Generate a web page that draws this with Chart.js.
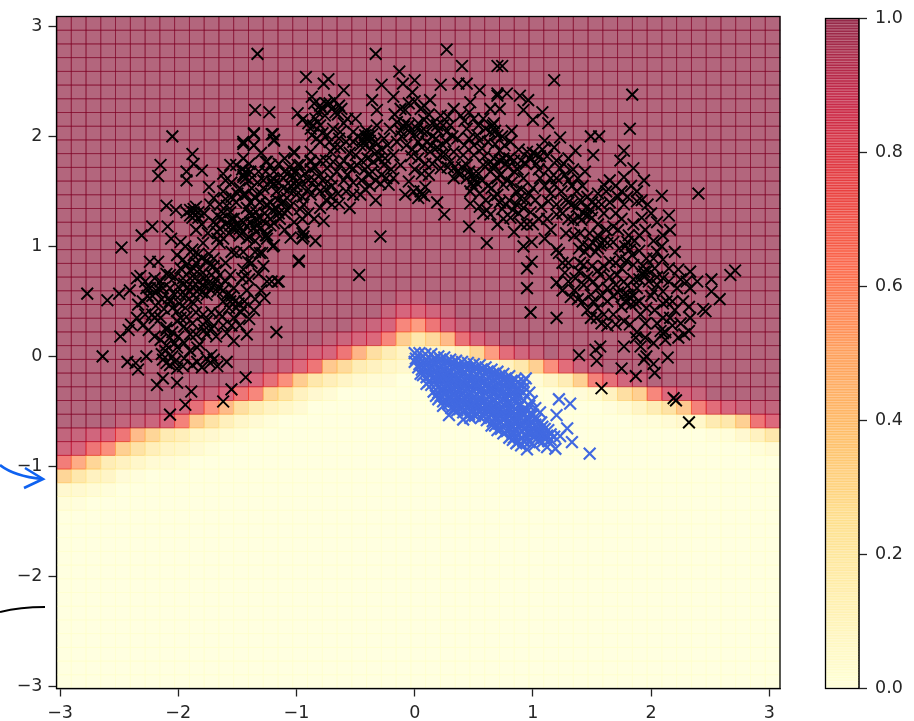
<!DOCTYPE html>
<html>
<head>
<meta charset="utf-8">
<style>
  html, body { margin: 0; padding: 0; background: #fff; }
  #wrap { position: relative; width: 914px; height: 721px; overflow: hidden; }
  canvas { position: absolute; top: 0; filter: blur(0.35px); }
  #ink { position: absolute; left: 0; top: 0; }
</style>
<script src="https://cdn.jsdelivr.net/npm/chart.js@4/dist/chart.umd.min.js"></script>
</head>
<body>
<div id="wrap">
  <canvas id="mainChart" width="914" height="721" style="left:0"></canvas>
  <canvas id="barChart" width="98" height="721" style="left:816px"></canvas>
  <svg id="ink" width="914" height="721">
    <path d="M0 465 Q14 476 42 479" fill="none" stroke="#0f62f0" stroke-width="2.6"/>
    <path d="M25 468 L43 479 L24 488" fill="none" stroke="#0f62f0" stroke-width="2.6"/>
    <path d="M0 612 Q20 607 45 607" fill="none" stroke="#000" stroke-width="2"/>
  </svg>
</div>
<script>
const xTicks = [-3, -2, -1, 0, 1, 2, 3];
const yTicks = [-3, -2, -1, 0, 1, 2, 3];
const barTicks = [0, 0.2, 0.4, 0.6, 0.8, 1];
const xRange = [-3.03, 3.09];
const yRange = [-3.02, 3.09];
const GRID_SIZE = 49;

// for each grid column: the highest row that is not fully 1.0, and the values going down from it
const cellTopRow = [18,18,18,18,19,19,19,20,20,21,21,21,22,22,23,23,24,24,25,25,26,26,27,28,28,27,27,26,25,25,24,24,24,23,24,23,23,22,22,22,21,21,21,21,20,20,20,20,20];
const cellFalloff = [
  [.95,.9,.72,.35,.08,.03],[.93,.88,.55,.25,.07,.02],[.9,.75,.35,.15,.05],[.87,.65,.2,.12,.03],
  [.95,.75,.38,.15,.04],[.94,.5,.28,.1,.02],[.92,.35,.18,.06],[.95,.88,.22,.12,.04],
  [.9,.7,.18,.1,.03],[.95,.8,.4,.1,.06],[.94,.62,.28,.08,.03],[.88,.5,.17,.05],
  [.95,.75,.3,.1,.03],[.88,.68,.2,.06],[.94,.8,.35,.14,.03],[.92,.65,.27,.1],
  [.95,.85,.4,.15,.06],[.9,.75,.25,.08],[.95,.88,.42,.18,.05],[.92,.75,.32,.12],
  [.95,.88,.52,.2,.07],[.92,.85,.3,.15,.05],[.93,.88,.68,.2,.1,.04],[.96,.88,.68,.4,.13,.08],
  [.95,.86,.6,.25,.1,.05],[.9,.75,.33,.1,.04],[.94,.88,.5,.1,.04],[.93,.78,.18,.05],
  [.88,.35,.08],[.93,.6,.1],[.82,.15,.03],[.9,.25,.04],
  [.93,.38,.05],[.65,.12],[.96,.82,.2,.02],[.92,.38,.04],
  [.95,.7,.07],[.8,.15,.02],[.9,.3,.06],[.93,.38,.12,.02],
  [.68,.2,.03],[.85,.28,.05],[.9,.42,.08],[.93,.7,.1],
  [.82,.22,.02],[.88,.25,.03],[.92,.38,.08],[.94,.75,.15,.03],[.95,.85,.25,.05]
];

const blackPoints = [
  // left arm
  [-2.05,2.0],[-1.88,1.84],[-2.15,1.74],[-2.17,1.64],[-1.8,1.69],[-1.87,1.75],[-1.93,1.68],[-1.93,1.6],[-1.62,1.66],
  [-1.45,1.93],[-1.36,2.02],[-1.36,1.92],[-1.21,2.02],[-1.19,1.96],[-1.02,1.86],[-2.1,1.37],[-2.02,1.33],[-2.22,1.18],
  [-2.09,1.18],[-2.31,1.1],[-2.48,.99],[-2.77,.57],[-2.6,.51],[-2.5,.57],[-2.41,.6],[-.98,.86],[-.95,1.12],[-.94,1.09],
  [-1.21,.68],[-1.16,.68],[-1.27,.53],[-1.17,.22],[-2.64,0],[-2.43,-.05],[-2.34,-.12],[-2.36,-.06],[-2.27,0],[-2.49,.18],
  [-2.4,.29],[-2.42,.24],[-2.18,-.26],[-2.01,-.24],[-2.13,-.2],[-1.89,-.32],[-1.94,-.44],[-2.07,-.53],[-1.62,-.41],
  [-1.55,-.3],[-1.43,-.19],
  [-2.32,.73],[-2.28,.68],[-2.24,.62],[-2.2,.71],[-2.15,.68],[-2.24,.86],[-2.17,.86],[-2.34,.47],[-2.28,.38],[-2.22,.38],
  [-2.2,.35],[-2.25,.24],[-2.1,.24],[-2.01,.32],[-1.98,.35],[-2.07,.5],[-2.08,.53],[-2.01,.41],[-1.94,.44],[-1.87,.48],
  [-1.93,.62],[-1.96,.71],[-1.98,.8],[-2.01,.92],[-1.94,1.0],[-2.06,1.07],[-1.98,1.04],[-1.87,.92],[-1.79,1.03],[-1.73,.83],
  [-1.7,.82],[-1.8,.89],[-1.86,.71],[-1.83,.68],[-1.79,.76],[-1.7,.65],[-1.66,.63],[-1.67,.59],[-1.76,.56],[-1.84,.59],
  [-1.9,.59],[-1.94,.56],[-1.79,.38],[-1.76,.32],[-1.63,.36],[-1.53,.35],[-1.51,.44],[-1.45,.44],[-1.36,.42],[-1.56,.5],
  [-1.59,.56],[-1.53,.62],[-1.46,.71],[-1.45,.79],[-1.38,.85],[-1.29,.94],[-1.56,.74],[-1.51,.94],[-1.2,1.0],[-1.25,1.07],
  [-1.34,1.13],[-1.45,1.22],[-1.53,1.18],[-1.51,1.16],[-1.62,1.07],[-1.65,1.03],[-1.67,1.13],[-1.7,1.22],[-1.67,1.28],
  [-1.7,1.44],[-1.62,1.5],[-1.74,1.54],[-1.87,1.31],[-1.9,1.28],[-1.83,1.31],[-1.87,1.34],[-1.93,1.31],[-1.51,1.4],
  [-1.45,1.47],[-1.48,1.53],[-1.51,1.74],[-1.56,1.74],[-1.45,1.65],[-1.43,1.62],[-1.25,1.77],[-1.21,1.59],[-1.2,1.56],
  [-1.08,1.66],[-.97,1.74],[-1.03,1.62],[-.88,1.77],[-.97,1.56],[-1.08,1.44],[-1.17,1.34],[-1.25,1.37],[-1.31,1.4],
  [-1.34,1.31],[-1.22,1.25],[-1.14,1.25],[-1.05,1.37],[-.97,1.34],[-1.39,1.22],[-1.34,1.25],[-1.25,1.1],[-1.22,1.19],
  [-1.56,1.31],[-1.59,1.37],[-1.39,1.4],[-1.38,1.53],[-1.28,1.53],[-1.17,1.5],[-1.11,1.53],
  [-1.79,.29],[-1.76,.2],[-1.82,.11],[-1.84,.08],[-1.9,.2],[-1.59,.21],[-1.53,.14],[-1.42,.2],[-2.03,.12],[-2.01,.08],
  [-2.11,.05],[-2.13,-.03],[-2.07,-.08],[-2.01,-.11],[-1.96,-.09],[-1.84,-.05],[-1.76,-.02],[-1.7,-.03],[-1.67,-.09],
  [-1.59,-.05],[-2.07,.17],[-2.1,.26],[-1.65,.39],[-2.35,.71],[-2.27,.62],[-2.13,.62],[-2.18,.59],
  [-1.9,.71],[-1.79,.65],[-1.87,.8],[-1.93,.83],[-2.07,.74],[-2.07,.62],[-1.98,.56],[-1.7,.89],[-1.67,1.07],[-1.56,1.19],
  [-1.48,1.16],[-1.34,1.19],[-1.22,1.4],[-1.11,1.62],[-1.19,1.68],[-1.43,1.68],
  [-2.3,.5],[-2.26,.55],[-2.19,.46],[-2.14,.52],[-2.12,.43],[-2.15,.35],[-2.05,.44],[-2.03,.56],[-2,.63],[-1.99,.48],[-1.95,.66],
  [-1.91,.52],[-1.88,.63],[-1.85,.53],[-1.82,.62],[-1.8,.58],[-1.78,.71],[-1.75,.66],[-1.73,.61],[-1.72,.74],[-1.68,.7],[-1.65,.74],
  [-1.62,.6],[-1.6,.68],[-1.62,.5],[-1.57,.44],[-1.55,.55],[-1.52,.5],[-1.49,.48],[-1.47,.4],[-1.44,.5],[-1.9,.78],[-1.85,.85],
  [-1.82,.79],[-1.76,.87],[-1.74,.93],[-1.68,.78],[-1.96,.88],[-1.88,.97],[-1.83,.93],[-2.03,.72],[-2.1,.75],[-2.17,.62],[-2.22,.55],
  [-1.93,.36],[-1.88,.3],[-1.85,.2],[-1.95,.27],[-2.05,.22],[-2.1,.1],[-2.05,0],[-2.1,-.06],[-2.14,.02],[-2.03,-.05],[-1.73,-.06],
  [-1.72,.01],[-1.78,.24],[-1.72,.25],
  [-1.9,1.33],[-1.86,1.28],[-1.85,1.36],[-1.88,1.26],[-1.83,1.26],[-1.68,1.2],[-1.65,1.16],[-1.63,1.25],[-1.6,1.2],[-1.57,1.12],
  [-1.55,1.25],[-1.53,1.25],[-1.5,1.2],[-1.48,1.1],[-1.45,1.13],[-1.42,1.18],[-1.4,1.08],[-1.38,1.28],[-1.35,1.05],[-1.3,1.17],
  [-1.28,1.23],[-1.27,1.3],[-1.2,1.33],[-1.16,1.42],[-1.12,1.4],[-1.1,1.3],[-1.65,1.38],[-1.62,1.3],[-1.6,1.43],[-1.55,1.45],[-1.5,1.48],
  [-1.42,1.35],[-1.4,1.3],[-1.35,1.45],[-1.3,1.48],[-1.28,1.6],[-1.26,1.68],[-1.2,1.62],[-1.15,1.58],[-1.1,1.68],[-1.06,1.72],[-1,1.68],
  [-.93,1.66],[-.9,1.6],[-.88,1.7],[-1.05,1.55],[-1,1.55],[-1.4,1.6],[-1.46,1.7],[-1.4,1.75],[-1.33,1.58],
  [-2.35,.35],[-2.3,.28],[-2.2,.18],[-2.15,.15],[-2,.18],[-1.95,.12],[-1.9,.05],[-1.95,-.02],[-1.88,-.08],[-1.8,-.1],[-1.62,.28],[-1.68,.18],
  [-1.7,.28],[-1.55,.28],[-1.48,.28],[-1.4,.34],[-1.72,.4],[-1.85,.4],[-1.3,.6],[-1.35,.52],[-1.42,.6],[-1.4,.7],[-1.32,.75],[-1.28,.82],
  [-1.35,.95],[-1.45,.95],[-1.6,.85],[-1.55,.95],[-1.85,1.15],[-1.8,1.2],[-1.75,1.12],[-1.78,1.3],[-1.73,1.38],[-1.55,1.58],[-1.6,1.6],
  [-1.45,1.8],[-1.3,1.85],[-1.15,1.75],[-1.1,1.8],
  // top of the arc
  [-1.33,2.75],[-.33,2.75],[.27,2.79],[.4,2.64],[-.92,2.54],[-.73,2.52],[-.77,2.48],[-.6,2.42],[-.28,2.47],[-.13,2.59],
  [0,2.51],[-.1,2.48],[.22,2.47],[.7,2.64],[-1.35,2.24],[-1.23,2.22],[-1.36,2.03],[-1.2,2.02],[-1.19,1.97],[-1.36,1.92],
  [-1.45,1.95],[-1.02,1.85],[-.29,1.09],[-.98,.87],[-.47,.74],[.61,1.03],[.46,1.18],[.25,1.29],[.19,1.4],[-.33,1.42],
  [-.94,1.13],[-.95,1.07],[-.84,1.05],[-.77,1.23],[-1.25,.68],[-1.15,.68],[-1.43,.73],[-1.41,.86],[-1.31,.94],
  [-.87,2.36],[-.99,2.21],[-.95,2.15],[-.8,2.28],[-.72,2.3],[-.64,2.28],[-.67,2.22],[-.76,2.19],[-.84,2.16],[-.88,2.07],
  [-.87,2.01],[-.8,1.95],[-.74,2.01],[-.63,2.04],[-.57,2.16],[-.5,2.16],[-.42,2.01],[-.4,1.97],[-.39,2.0],[-.36,2.33],
  [-.32,2.24],[-.18,2.36],[-.02,2.4],[.13,2.33],[.05,2.25],[-.08,2.24],[-.15,2.13],[-.09,2.09],[-.04,2.04],[.02,2.07],
  [-.21,2.07],[-.26,1.98],[-.32,1.86],[-.4,1.8],[-.5,1.83],[-.63,1.9],[-.71,1.86],[-.8,1.78],[-.74,1.71],[-.84,1.72],
  [-.57,1.65],[-.52,1.71],[-.39,1.65],[-.29,1.57],[-.24,1.62],[-.12,1.74],[-.18,1.83],[.06,1.66],[-.05,1.59],[-.08,1.47],
  [-.01,1.5],[.06,1.47],[.09,1.54],[.13,1.86],[.19,1.9],[.22,2.19],[.33,2.25],[.37,2.48],[.44,2.48],[.55,2.42],[.47,2.31],
  [.64,2.25],[.7,2.39],[.27,2.04],[.36,1.98],[.44,2.07],[.53,2.01],[.62,1.95],[.7,2.01],[.22,1.83],[.3,1.77],[.22,1.71],
  [.36,1.68],[.44,1.74],[.5,1.62],[.5,1.54],[.58,1.74],[.67,1.8],[.7,1.62],[.65,1.53],[.47,1.39],[.55,1.36],[.61,1.33],
  [.64,1.29],[-.52,1.47],[-.46,1.47],[-.55,1.35],[-.64,1.39],[-.71,1.45],[-.83,1.54],[-.88,1.47],[-.94,1.38],[-.99,1.74],
  [-1.04,1.65],[-.97,1.62],[-1.07,1.51],[-1,1.47],[-1.11,1.41],[-1.08,1.33],[-1.19,1.57],[-1.26,1.77],[-1.22,1.74],
  [-1.32,1.68],[-1.39,1.68],[-1.45,1.63],[-1.43,1.47],[-1.35,1.44],[-1.25,1.38],[-1.31,1.26],[-1.36,1.17],[-1.26,1.1],
  [-1.19,1.01],[-1.42,1.07],[-1.19,1.21],[-1.15,1.3],
  [-.69,1.77],[-.63,1.74],[-.46,1.92],[-.35,1.77],[-.26,1.74],[-.23,1.92],[-.15,1.95],[-.07,1.92],[.1,2.04],[.19,2.1],
  [.24,1.92],[.33,1.86],[.41,1.83],[.5,1.83],[.57,1.89],[.64,2.04],[.39,2.19],[.5,2.16],[.58,2.16],[-.52,2.04],[-.8,2.1],
  [-.69,2.07],[-.49,1.74],[-.8,1.65],[-.71,1.62],[-.88,1.86],[-.32,2.1],
  [-.85,2.3],[-.82,2.22],[-.78,2.25],[-.75,2.3],[-.7,2.25],[-.68,2.33],[-.65,2.2],[-.62,2.25],[-.6,2.12],[-.9,2.12],[-.86,2.1],[-.83,1.98],
  [-.78,2.03],[-.72,1.95],[-.68,1.9],[-.64,1.98],[-.58,1.95],[-.55,1.85],[-.52,1.95],[-.48,2.0],[-.44,1.97],[-.42,1.92],[-.38,1.96],
  [-.36,2.02],[-.41,2.05],[-.37,1.88],[-.33,1.95],[-.45,1.78],[-.42,1.7],[-.36,1.68],[-.3,1.8],[-.28,1.88],[-.25,1.8],[-.2,1.7],[-.18,1.62],
  [-.28,1.65],[-.22,1.56],[-.6,1.78],[-.66,1.68],[-.6,1.6],[-.55,1.72],[-.75,1.78],[-.7,1.55],[-.78,1.6],[-.88,1.78],[-.12,2.05],[-.08,2.12],
  [-.05,2.1],[-.11,2.0],[0,2.02],[.03,2.12],[.06,2.05],[.08,2.15],[-.17,2.2],[-.12,2.25],[-.05,2.3],[0,2.32],[.08,2.28],[.12,2.2],[.15,2.12],
  [.15,2.0],[.2,2.05],[.24,2.1],[.28,2.18],[.3,2.1],[.32,2.0],[.26,1.96],[.18,1.98],[.14,1.92],[.19,1.8],[.26,1.84],[.28,1.72],[.34,1.72],
  [.33,1.62],[.38,1.65],[.4,1.72],[.44,1.62],[.46,1.68],[.48,1.57],[.5,1.66],[.52,1.58],[.54,1.66],[.47,1.5],[.57,1.6],[.42,1.92],[.46,1.98],
  [.5,1.92],[.55,1.96],[.59,1.82],[.62,1.75],[.64,1.68],[.68,1.72],[.42,2.14],[.46,2.22],[.54,2.1],[.6,2.07],[.66,2.1],[.68,1.93],[.72,1.78],
  [.05,1.5],[.03,1.44],[.08,1.46],
  [0,1.7],[.03,1.8],[-.03,1.82],[.06,1.9],[.09,1.75],[.12,1.65],[.15,1.75],[.1,1.95],[.03,1.95],[-.02,1.88],[.62,1.55],[.67,1.45],[.72,1.4],[.6,1.42],
  [.55,1.48],[.58,1.3],[.7,1.2],[.75,1.25],[-.95,1.45],[-.9,1.52],[-.85,1.6],[-.8,1.5],[-.75,1.42],[-.7,1.38],[-.65,1.48],[-.58,1.5],[-.52,1.58],
  [-.45,1.6],[-.38,1.55],[-.33,1.6],[-.42,1.52],[-.95,1.25],[-.9,1.3],[-.85,1.25],[-.8,1.35],[-.75,1.52],[-1.02,1.22],[-1.1,1.15],[-1.05,1.08],
  // right arm
  [.74,2.64],[1.18,2.51],[1.84,2.38],[1.82,2.07],[1.49,2.0],[1.56,2.0],[2.4,1.48],[2.71,.78],[2.67,.74],[2.51,.7],[2.58,.52],
  [2.51,.59],[2.46,.41],[2.44,.43],[.95,.62],[.98,.4],[1.2,.35],[.95,.8],[.99,.86],[1.39,.01],[1.54,-.04],[1.57,.09],[1.53,.06],
  [1.77,.09],[1.75,-.11],[1.87,-.18],[2.03,-.15],[2.14,-.01],[1.58,-.29],[2.19,-.38],[1.94,-.03],[2.02,-.07],[1.96,0],
  [.84,1.13],[.92,1.0],[.99,1.04],[1.1,1.07],[1.2,.97],[1.22,.94],
  [.7,2.37],[.78,2.39],[.89,2.37],[.96,2.33],[.72,2.25],[.92,2.24],[1,2.15],[1.08,2.22],[1.13,2.12],[.67,2.12],[.82,2.05],
  [.81,1.95],[.72,1.87],[.67,1.74],[.77,1.75],[.84,1.68],[.95,1.86],[1.03,1.83],[1.1,1.96],[1.18,1.9],[1.23,1.99],[1.23,1.71],
  [1.3,1.8],[1.36,1.87],[1.44,1.68],[1.51,1.83],[1.6,1.56],[1.77,1.87],[1.74,1.78],[1.85,1.71],[1.77,1.63],[1.94,1.6],[2.09,1.46],
  [1.88,1.41],[1.77,1.38],[1.97,1.38],[2.15,1.28],[2.16,1.15],[1.92,1.26],[1.81,1.1],[1.72,1.15],[1.49,1.33],[1.43,1.3],[1.39,1.27],
  [1.34,1.24],[1.53,1.38],[1.37,1.5],[1.2,1.38],[1.2,1.29],[1.13,1.41],[.98,1.31],[.86,1.38],[.81,1.26],[.74,1.34],[1,1.53],
  [.92,1.62],[.75,1.56],[.7,1.47],[1.06,1.62],[.89,1.44],[1.18,1.56],[1.57,1.01],[1.63,1.03],[1.51,1.03],[1.44,.95],[1.39,.98],
  [1.82,.97],[1.84,.92],[2.09,1.0],[2.2,.95],[2.02,.89],[1.94,.77],[1.95,.73],[2.03,.8],[2.1,.71],[2.23,.79],[2.33,.77],[2.39,.68],
  [2.33,.62],[1.27,.76],[1.2,.67],[1.32,.54],[1.39,.77],[1.43,.65],[1.57,.74],[1.63,.62],[1.71,.74],[1.77,.68],[1.82,.53],[1.87,.48],
  [1.77,.56],[1.63,.5],[1.51,.5],[1.46,.42],[1.54,.35],[1.49,.35],[1.7,.29],[1.82,.29],[1.87,.17],[1.91,.09],[2.08,.23],[2.1,.21],
  [2.32,.45],[2.33,.35],[2.32,.23],[2.23,.17],[2.13,.5],[2.22,.62],[2.16,.35],[1.96,.44],[2.02,.59],[1.65,.86],[1.74,.89],[1.43,.83],
  [1.51,.68],[1.91,.38],[1.77,.32],[2.1,.59],[1.88,.62],[1.6,.38],[1.36,.71],[1.49,.56],[1.68,.38],[1.85,.83],[1.96,.89],[1.8,1.04],[1.68,1.04],
  [.68,2.05],[.74,2.0],[.76,1.92],[.75,1.8],[.79,1.72],[.8,1.8],[.84,1.78],[.87,1.7],[.88,1.88],[.9,1.78],[.94,1.75],[.97,1.8],[1,1.85],[1.03,1.75],
  [1.06,1.82],[1.08,1.88],[1.12,1.82],[.72,1.65],[.78,1.6],[.82,1.58],[.86,1.5],[.8,1.42],[.77,1.38],[.9,1.52],[.94,1.42],[.97,1.48],[1.02,1.42],
  [.92,1.35],[.88,1.3],[.83,1.33],[1.07,1.36],[1.15,1.62],[1.13,1.7],[1.2,1.78],[1.27,1.65],[1.33,1.55],[1.4,1.42],[1.47,1.28],[1.45,1.35],[1.41,1.24],
  [1.37,1.36],[1.5,1.26],[1.3,1.4],[1.25,1.3],[1.3,1.25],[1.55,1.2],[1.6,1.3],[1.65,1.4],[1.7,1.3],[1.62,1.15],[1.68,1.18],[1.75,1.25],[1.85,1.2],
  [1.58,1.03],[1.55,.98],[1.6,1.06],[1.53,.95],[1.47,1.0],[1.42,1.02],[1.73,.98],[1.78,1.0],[1.86,1.05],[1.9,.96],[1.79,.87],[1.7,.85],[1.6,.82],[1.5,.82],
  [1.92,.75],[1.97,.78],[1.9,.7],[1.98,.68],[2.05,.72],[1.93,.82],[1.85,.7],[1.8,.64],[1.72,.58],[1.78,.5],[1.83,.47],[1.85,.55],[1.8,.56],[1.9,.5],
  [1.75,.45],[1.68,.55],[1.58,.55],[1.55,.62],[1.46,.72],[1.35,.6],[1.42,.5],[1.55,.44],[1.58,.3],[1.63,.28],[1.95,.3],[2.03,.42],[2.05,.3],[2.12,.22],
  [2.18,.28],[2.25,.3],[2.28,.2],[2.27,.5],[2.2,.42],[2.1,.35],[2.05,.65],[2.15,.68],[1.88,.22],[1.95,.17],[2.02,.12],[2.12,.15],
  [1.05,1.7],[1.1,1.55],[1.15,1.48],[1.2,1.62],[1.24,1.5],[1.28,1.42],[1.33,1.38],[1.3,1.6],[1.26,1.75],[1.34,1.7],[1.38,1.62],[1.42,1.55],[1.46,1.45],[1.5,1.4],
  [1.55,1.48],[1.58,1.38],[1.62,1.5],[1.65,1.6],[1.7,1.55],[1.72,1.45],[1.75,1.5],[1.8,1.45],[1.83,1.55],[1.88,1.5],[1.92,1.42],[2,1.3],[2.05,1.22],[2.1,1.1],
  [1.95,1.15],[2.02,1.05],[1.9,1.1],[1.12,1.25],[1.05,1.25],[1,1.2],[.95,1.2],[.9,1.2],[1.15,1.15],[1.28,1.12],[1.35,1.1],[1.4,1.12],[1.48,1.12],[1.55,1.1],
  [1.4,.85],[1.3,.85],[1.25,.85],[1.3,.68],[1.25,.6],[1.38,.52],[1.55,.78],[1.65,.72],[1.75,.8],[1.7,.65],[2,.55],[2.1,.48],[2.18,.5],[2.25,.7],[2.3,.68],
  [2.15,.8],[2.1,.88],[2.05,.95],
  [2.32,-.6],[2.21,-.4]
];

const bluePoints = [
  // outliers
  [1.48,-.885],[1.22,-.39],[1.315,-.43],[1.2,-.535],[1.29,-.655],[1.33,-.78],[1.19,-.84],[1.12,-.825],[1.23,-.725],[.99,-.408],
  [.92,-.33],[.86,-.317],[.88,-.36],[1.06,-.51],[.96,-.695],[.92,-.77],[.95,-.846],[1.05,-.77],[.29,-.535],[.41,-.574],[.33,-.48],
  [.24,-.45],[.47,-.56],[.84,-.74],[1.15,-.71],[1.09,-.74],[1.02,-.68],
  // the dense body
  [0,.03],[.01,-.02],[0,-.05],[.04,.03],[.05,-.02],[.04,-.07],[.06,-.12],[.05,-.16],
  [.09,.02],[.1,-.03],[.09,-.08],[.11,-.13],[.1,-.19],[.1,-.25],[.14,.02],[.15,-.04],[.14,-.09],[.16,-.14],[.15,-.2],[.14,-.26],[.16,-.32],
  [.2,.0],[.19,-.05],[.21,-.1],[.2,-.16],[.19,-.21],[.21,-.27],[.2,-.33],[.2,-.39],[.25,-.01],[.24,-.07],[.26,-.12],[.25,-.18],[.24,-.24],[.26,-.29],[.25,-.35],[.24,-.41],
  [.3,-.03],[.29,-.08],[.31,-.14],[.3,-.2],[.29,-.25],[.31,-.31],[.3,-.37],[.29,-.43],[.35,-.04],[.34,-.1],[.36,-.15],[.35,-.21],[.34,-.27],[.36,-.32],[.35,-.38],[.34,-.44],[.36,-.49],
  [.4,-.05],[.39,-.11],[.41,-.17],[.4,-.23],[.39,-.28],[.41,-.34],[.4,-.4],[.39,-.46],[.41,-.51],[.45,-.06],[.44,-.12],[.46,-.18],[.45,-.24],[.44,-.3],[.46,-.35],[.45,-.41],[.44,-.47],[.46,-.53],
  [.5,-.07],[.49,-.13],[.51,-.19],[.5,-.25],[.49,-.31],[.51,-.37],[.5,-.43],[.49,-.48],[.51,-.54],[.55,-.08],[.54,-.14],[.56,-.2],[.55,-.26],[.54,-.32],[.56,-.38],[.55,-.44],[.54,-.5],[.56,-.56],
  [.6,-.1],[.59,-.15],[.61,-.21],[.6,-.27],[.59,-.33],[.61,-.39],[.6,-.45],[.59,-.51],[.61,-.58],[.65,-.12],[.64,-.17],[.66,-.23],[.65,-.29],[.64,-.35],[.66,-.41],[.65,-.47],[.64,-.53],[.66,-.59],[.65,-.63],
  [.7,-.14],[.69,-.19],[.71,-.25],[.7,-.31],[.69,-.37],[.71,-.43],[.7,-.49],[.69,-.55],[.71,-.61],[.7,-.67],[.75,-.16],[.74,-.21],[.76,-.27],[.75,-.33],[.74,-.39],[.76,-.45],[.75,-.51],[.74,-.57],[.76,-.63],[.75,-.7],
  [.8,-.18],[.79,-.24],[.81,-.3],[.8,-.36],[.79,-.42],[.81,-.48],[.8,-.54],[.79,-.6],[.81,-.66],[.8,-.74],[.85,-.21],[.84,-.27],[.86,-.42],[.85,-.48],[.84,-.54],[.86,-.6],[.85,-.66],[.86,-.79],
  [.9,-.26],[.89,-.44],[.91,-.5],[.9,-.56],[.89,-.62],[.91,-.68],[.9,-.81],[.95,-.5],[.94,-.56],[.96,-.62],[.95,-.74],[1,-.53],[.99,-.6],[1.01,-.66],[1,-.73],[1.01,-.81],
  [1.05,-.62],[1.06,-.69],[1.04,-.74],[1.1,-.66],[1.12,-.72],[1.08,-.78],[1.15,-.76],
  [.08,-.06],[.13,-.17],[.18,-.13],[.23,-.22],[.27,-.15],[.33,-.24],[.38,-.2],[.43,-.27],[.48,-.22],[.53,-.29],[.58,-.24],[.63,-.31],[.68,-.28],[.73,-.35],[.78,-.3],[.83,-.39],[.88,-.5],[.93,-.6],[.98,-.63],
  [.22,-.3],[.28,-.38],[.33,-.41],[.38,-.37],[.43,-.44],[.48,-.4],[.53,-.47],[.58,-.42],[.63,-.5],[.68,-.46],[.73,-.54],[.78,-.5],[.83,-.58],[.88,-.65],[.93,-.71],
  [.03,-.1],[.07,-.17],[.12,-.06],[.12,-.23],[.17,-.02],[.17,-.08],[.17,-.18],[.18,-.26],[.18,-.36],[.22,-.03],[.22,-.14],[.23,-.19],[.22,-.36],[.27,-.05],[.27,-.21],[.27,-.26],[.27,-.33],[.28,-.43],
  [.32,-.06],[.32,-.11],[.33,-.17],[.32,-.29],[.33,-.35],[.31,-.47],[.37,-.08],[.38,-.13],[.37,-.26],[.38,-.3],[.37,-.43],[.38,-.48],[.43,-.09],[.42,-.15],[.42,-.21],[.43,-.32],[.42,-.38],[.43,-.49],
  [.47,-.1],[.48,-.16],[.47,-.28],[.48,-.34],[.47,-.45],[.48,-.51],[.52,-.11],[.53,-.17],[.52,-.23],[.53,-.35],[.52,-.41],[.53,-.53],[.57,-.12],[.58,-.18],[.57,-.3],[.58,-.36],[.57,-.48],[.58,-.54],
  [.62,-.14],[.63,-.19],[.62,-.25],[.63,-.37],[.62,-.43],[.63,-.56],[.67,-.16],[.68,-.21],[.67,-.33],[.68,-.4],[.67,-.51],[.68,-.57],[.68,-.63],[.72,-.18],[.73,-.23],[.72,-.29],[.73,-.41],[.72,-.47],[.73,-.6],[.73,-.66],
  [.77,-.2],[.78,-.25],[.77,-.37],[.78,-.43],[.77,-.55],[.78,-.61],[.78,-.68],[.82,-.22],[.83,-.28],[.82,-.34],[.83,-.45],[.82,-.51],[.83,-.63],[.83,-.7],[.83,-.76],[.87,-.24],[.88,-.3],[.87,-.38],[.88,-.45],[.87,-.56],[.88,-.71],[.88,-.77],
  [.92,-.23],[.94,-.2],[.93,-.28],[.92,-.4],[.93,-.47],[.92,-.53],[.93,-.65],[.93,-.77],[.97,-.33],[.97,-.45],[.98,-.53],[.97,-.58],[.98,-.69],[.97,-.78],[1.02,-.47],[1.03,-.57],[1.02,-.62],[1.03,-.7],[1.07,-.6],[1.08,-.64],[1.08,-.71],[1.13,-.67],[1.13,-.77],[1.18,-.73]
];

// YlOrRd, as matplotlib has it
const cmapStops = [[255,255,204],[255,237,160],[254,217,118],[254,178,76],[253,141,60],[252,78,42],[227,26,28],[189,0,38],[128,0,38]];
const CELL_ALPHA = 0.6;

function cmap(v) {
  const t = Math.min(Math.max(v, 0), 1) * (cmapStops.length - 1);
  const i = Math.min(Math.floor(t), cmapStops.length - 2);
  const f = t - i;
  const c = cmapStops[i].map((a, k) => Math.round(a + (cmapStops[i + 1][k] - a) * f));
  return `rgba(${c[0]},${c[1]},${c[2]},${CELL_ALPHA})`;
}

function cellValue(col, row) {
  const k = cellTopRow[col] - row;
  if (k < 0) return 1;
  return k < cellFalloff[col].length ? cellFalloff[col][k] : 0;
}

const heatmapPlugin = {
  id: 'heatmap',
  beforeDatasetsDraw(chart) {
    const { ctx, scales: { x, y } } = chart;
    const dx = (xRange[1] - xRange[0]) / GRID_SIZE;
    const dy = (yRange[1] - yRange[0]) / GRID_SIZE;
    ctx.save();
    ctx.lineWidth = 0.9;
    for (let col = 0; col < GRID_SIZE; col++) {
      for (let row = 0; row < GRID_SIZE; row++) {
        const left = x.getPixelForValue(xRange[0] + col * dx);
        const right = x.getPixelForValue(xRange[0] + (col + 1) * dx);
        const top = y.getPixelForValue(yRange[0] + (row + 1) * dy);
        const bottom = y.getPixelForValue(yRange[0] + row * dy);
        const color = cmap(cellValue(col, row));
        ctx.fillStyle = color;
        ctx.strokeStyle = color;
        ctx.fillRect(left, top, right - left, bottom - top);
        ctx.strokeRect(left, top, right - left, bottom - top);
      }
    }
    ctx.restore();
  }
};

const framePlugin = {
  id: 'frame',
  afterDraw(chart) {
    const { ctx, chartArea: a } = chart;
    ctx.save();
    ctx.strokeStyle = '#000';
    ctx.lineWidth = 1.3;
    ctx.strokeRect(a.left, a.top, a.right - a.left, a.bottom - a.top);
    ctx.restore();
  }
};

const tickFont = { family: '"DejaVu Sans"', size: 17.5 };
const minusLabel = v => String(v).replace('-', '\u2212');

new Chart(document.getElementById('mainChart'), {
  type: 'scatter',
  data: {
    datasets: [
      {
        data: blackPoints.map(p => ({ x: p[0], y: p[1] })),
        pointStyle: 'crossRot',
        pointRadius: 8.3,
        pointBorderWidth: 1.9,
        pointBorderColor: '#000'
      },
      {
        data: bluePoints.map(p => ({ x: p[0], y: p[1] })),
        pointStyle: 'crossRot',
        pointRadius: 8.3,
        pointBorderWidth: 2.2,
        pointBorderColor: '#4169e1'
      }
    ]
  },
  options: {
    responsive: false,
    animation: false,
    devicePixelRatio: 1,
    layout: { padding: { top: 14, right: 134, left: 0, bottom: 0 } },
    plugins: { legend: { display: false }, tooltip: { enabled: false } },
    scales: {
      x: {
        min: xRange[0],
        max: xRange[1],
        afterBuildTicks: s => { s.ticks = xTicks.map(v => ({ value: v })); },
        afterFit: s => { s.height = 32.5; },
        grid: { drawOnChartArea: false, tickLength: 8, tickColor: '#222', tickWidth: 1.3 },
        border: { color: '#000', width: 1.3 },
        ticks: { font: tickFont, color: '#262626', padding: 6, maxRotation: 0, autoSkip: false, callback: minusLabel }
      },
      y: {
        min: yRange[0],
        max: yRange[1],
        afterBuildTicks: s => { s.ticks = yTicks.map(v => ({ value: v })); },
        afterFit: s => { s.width = 56.5; },
        grid: { drawOnChartArea: false, tickLength: 8, tickColor: '#222', tickWidth: 1.3 },
        border: { color: '#000', width: 1.3 },
        ticks: { font: tickFont, color: '#262626', padding: 6, autoSkip: false, callback: minusLabel }
      }
    }
  },
  plugins: [heatmapPlugin, framePlugin]
});

// colorbar: one thin floating bar per colormap level, a little overlapped like the original
const BAR_LEVELS = 256;
const barDatasets = [];
for (let i = 0; i < BAR_LEVELS; i++) {
  barDatasets.push({
    data: [[i / BAR_LEVELS, (i + 1.3) / BAR_LEVELS]],
    backgroundColor: cmap(i / (BAR_LEVELS - 1)),
    borderWidth: 0,
    grouped: false,
    barPercentage: 1,
    categoryPercentage: 1
  });
}

new Chart(document.getElementById('barChart'), {
  type: 'bar',
  data: { labels: [''], datasets: barDatasets },
  options: {
    responsive: false,
    animation: false,
    devicePixelRatio: 1,
    layout: { padding: { top: 14, left: 9.5, right: 0, bottom: 32.5 } },
    plugins: { legend: { display: false }, tooltip: { enabled: false } },
    scales: {
      x: { display: false },
      y: {
        position: 'right',
        min: 0,
        max: 1,
        afterBuildTicks: s => { s.ticks = barTicks.map(v => ({ value: v })); },
        afterFit: s => { s.width = 55; },
        grid: { drawOnChartArea: false, tickLength: 8, tickColor: '#222', tickWidth: 1.3 },
        border: { color: '#000', width: 1.3 },
        ticks: { font: tickFont, color: '#262626', padding: 8, autoSkip: false, callback: v => v.toFixed(1) }
      }
    }
  },
  plugins: [framePlugin]
});
</script>
</body>
</html>
